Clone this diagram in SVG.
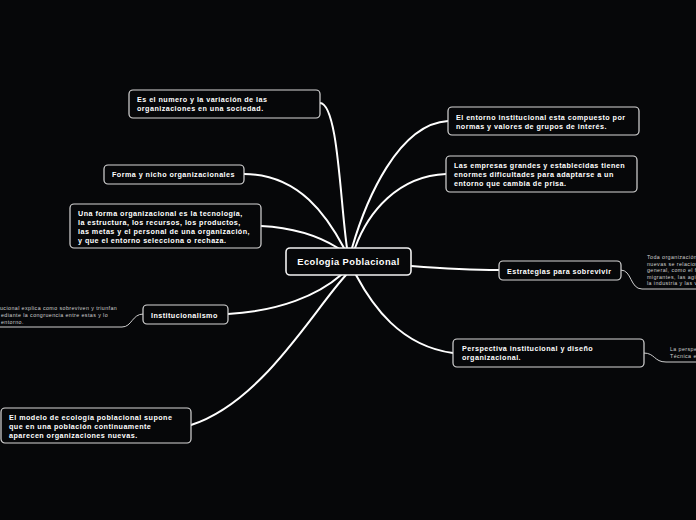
<svg xmlns="http://www.w3.org/2000/svg" width="696" height="520" viewBox="0 0 696 520">
<style>
.bg{fill:#060709}
.box{fill:#060709;stroke:#d8d8d8;stroke-width:1.2}
.main{fill:#060709;stroke:#f2f2f2;stroke-width:1.6}
.t{font-family:"Liberation Sans",Arial,sans-serif;font-weight:bold;font-size:7.2px;letter-spacing:0.45px;fill:#ffffff}
.tm{font-family:"Liberation Sans",Arial,sans-serif;font-weight:bold;font-size:9.3px;letter-spacing:0.45px;fill:#ffffff}
.s{font-family:"Liberation Sans",Arial,sans-serif;font-size:5.3px;letter-spacing:0.42px;fill:#d0d0d0}
.c{fill:none;stroke:#ffffff;stroke-width:2;stroke-linecap:round}
.c2{fill:none;stroke:#cfcfcf;stroke-width:1;stroke-linecap:round}
</style>
<rect class="bg" x="0" y="0" width="696" height="520"/>
<g id="connectors">
<path class="c" d="M320,103 C338,104 340,200 347,248"/>
<path class="c" d="M244,174 C300,174 328,218 344,248"/>
<path class="c" d="M261,226 C300,228 322,238 338,248"/>
<path class="c" d="M228,314 C280,311 318,295 341,275"/>
<path class="c" d="M191,425 C262,402 312,312 346,275"/>
<path class="c" d="M448,121 C398,124 366,200 352,248"/>
<path class="c" d="M446,174 C398,176 368,212 355,248"/>
<path class="c" d="M411,266 C450,269 470,270 499,270"/>
<path class="c" d="M453,353 C400,346 372,305 356,275"/>
<path class="c2" d="M143,314 C132,314 132,327 122,327 L0,327"/>
<path class="c2" d="M621,270 C632,270 630,289 642,289 L696,289"/>
<path class="c2" d="M644,353 C655,353 654,362 666,362 L696,362"/>
</g>
<g id="central">
<rect class="main" x="286" y="248" width="125" height="27" rx="4"/>
<text class="tm" x="348.5" y="265" text-anchor="middle">Ecologia Poblacional</text>
</g>
<g id="n1">
<rect class="box" x="129" y="90" width="191" height="28" rx="4"/>
<text class="t" x="137" y="102">Es el numero y la variación de las</text>
<text class="t" x="137" y="111">organizaciones en una sociedad.</text>
</g>
<g id="n2">
<rect class="box" x="104" y="165" width="140" height="19" rx="4"/>
<text class="t" x="112" y="177">Forma y nicho organizacionales</text>
</g>
<g id="n3">
<rect class="box" x="70" y="204" width="191" height="44" rx="4"/>
<text class="t" x="78" y="216">Una forma organizacional es la tecnología,</text>
<text class="t" x="78" y="225">la estructura, los recursos, los productos,</text>
<text class="t" x="78" y="234">las metas y el personal de una organización,</text>
<text class="t" x="78" y="243">y que el entorno selecciona o rechaza.</text>
</g>
<g id="n4">
<rect class="box" x="143" y="305" width="85" height="19" rx="4"/>
<text class="t" x="151" y="317.5">Institucionalismo</text>
</g>
<g id="n4note">
<text class="s" x="0" y="310">ucional explica como sobreviven y triunfan</text>
<text class="s" x="1" y="317">ediante la congruencia entre estas y lo</text>
<text class="s" x="1" y="323.5">entorno.</text>
</g>
<g id="n5">
<rect class="box" x="1" y="408" width="190" height="35" rx="4"/>
<text class="t" x="9" y="420">El modelo de ecología poblacional supone</text>
<text class="t" x="9" y="429">que en una población continuamente</text>
<text class="t" x="9" y="438">aparecen organizaciones nuevas.</text>
</g>
<g id="n6">
<rect class="box" x="448" y="107" width="191" height="28" rx="4"/>
<text class="t" x="456" y="120">El entorno institucional esta compuesto por</text>
<text class="t" x="456" y="129">normas y valores de grupos de interés.</text>
</g>
<g id="n7">
<rect class="box" x="446" y="156" width="191" height="36" rx="4"/>
<text class="t" x="454" y="168">Las empresas grandes y establecidas tienen</text>
<text class="t" x="454" y="177">enormes dificultades para adaptarse a un</text>
<text class="t" x="454" y="186">entorno que cambia de prisa.</text>
</g>
<g id="n8">
<rect class="box" x="499" y="261" width="122" height="19" rx="4"/>
<text class="t" x="507" y="273.5">Estrategias para sobrevivir</text>
</g>
<g id="n8note">
<text class="s" x="647" y="259">Toda organización</text>
<text class="s" x="647" y="265.5">nuevas se relacion</text>
<text class="s" x="647" y="272">general, como el f</text>
<text class="s" x="647" y="278.5">migrantes, las agi</text>
<text class="s" x="647" y="285">la industria y las v</text>
</g>
<g id="n9">
<rect class="box" x="453" y="339" width="191" height="28" rx="4"/>
<text class="t" x="462" y="351">Perspectiva institucional y diseño</text>
<text class="t" x="462" y="360">organizacional.</text>
</g>
<g id="n9note">
<text class="s" x="670" y="351">La perspe</text>
<text class="s" x="670" y="358">Técnica e</text>
</g>
</svg>
